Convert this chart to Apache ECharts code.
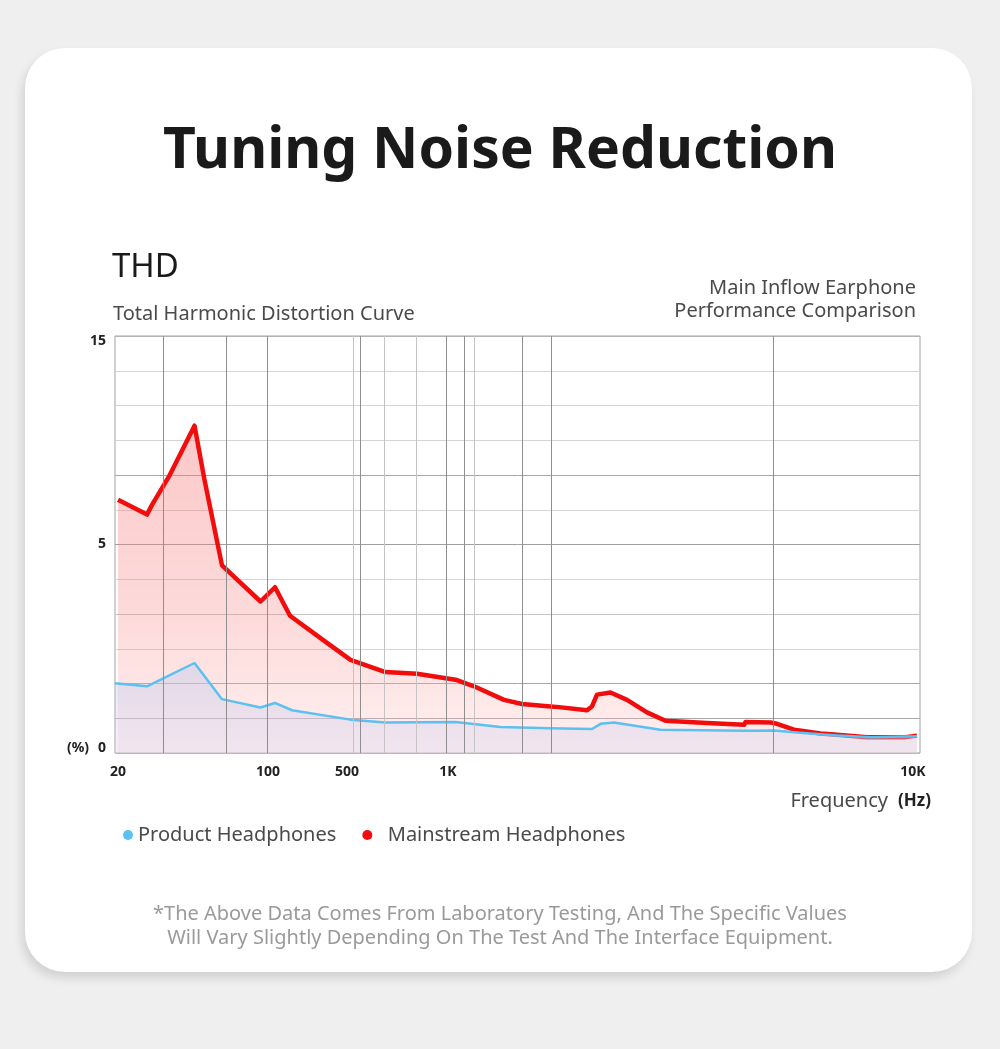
<!DOCTYPE html>
<html>
<head>
<meta charset="utf-8">
<script src="https://cdn.jsdelivr.net/npm/echarts@6/dist/echarts.min.js"></script>
<style>
    html, body { margin: 0; padding: 0; background: #efefef; }
    #card {
        position: absolute; left: 25px; top: 48px; width: 947px; height: 924px;
        background: #fff; border-radius: 40px;
        box-shadow: -3px 6px 10px rgba(0, 0, 0, 0.12);
    }
    #chart { position: absolute; left: 0; top: 0; width: 1000px; height: 1049px; }
</style>
</head>
<body>
<div id="card"></div>
<div id="chart"></div>
<script>
// x: position along the printed frequency scale (0 = 20Hz edge, 805 = right edge)
// y: grid rows of the printed chart (0..12, row 6 is labelled 5%, row 12 is 15%)
const FREQ_LABELS = ['20', '100', '500', '1K', '10K'];
const FREQ_LABEL_POS = [3, 153, 232, 333, 798];
const THD_LABELS = ['0', '5', '15'];
const THD_LABEL_POS = [0, 6, 12];

// vertical grid lines of the printed chart, dark ones and light ones
const GRID_X_DARK = [47.8, 111.5, 152.5, 244.8, 331.2, 348.8, 406.8, 435.8, 657.8];
const GRID_X_LIGHT = [237.8, 269.5, 301.2, 358.8];

const productX = [0, 32, 79.5, 107, 145.5, 160, 177, 235.5, 270.5, 340.5, 385.5, 435.5, 477, 485.5, 499, 545.5, 630.5, 659, 685.5, 718.5, 755.5, 802];
const productY = [2.01, 1.92, 2.59, 1.55, 1.31, 1.44, 1.23, 0.96, 0.88, 0.89, 0.75, 0.71, 0.69, 0.84, 0.88, 0.67, 0.64, 0.65, 0.58, 0.51, 0.45, 0.48];

const mainstreamX = [3, 32, 37, 54, 79.5, 89.5, 107, 145.5, 160, 175, 212, 235.5, 270.5, 302, 340.5, 359, 389, 407, 435.5, 444, 472, 474, 477, 482, 495.5, 512, 532, 550.5, 592, 629, 630.5, 655.5, 662, 679, 705.5, 719, 752, 789, 802];
const mainstreamY = [7.29, 6.86, 7.14, 7.96, 9.42, 7.86, 5.40, 4.36, 4.77, 3.95, 3.17, 2.68, 2.33, 2.28, 2.11, 1.92, 1.53, 1.41, 1.34, 1.32, 1.23, 1.22, 1.34, 1.68, 1.74, 1.53, 1.17, 0.93, 0.86, 0.81, 0.89, 0.88, 0.84, 0.67, 0.56, 0.53, 0.45, 0.45, 0.50];

// darker rows at 1, 2, 6, 8
const ROW_COLORS = ['#b8b8b8', '#a8a8a8', '#a8a8a8', '#d4d4d4', '#c4c4c4', '#d4d4d4', '#a0a0a0', '#d4d4d4', '#a8a8a8', '#d4d4d4', '#d4d4d4', '#d4d4d4', '#b4b4b4'];

const FONT = '"Noto Sans", sans-serif';

let myChart = echarts.init(document.getElementById('chart'), null, { renderer: 'canvas' });

let zip = (xs, ys) => xs.map((x, i) => [x, ys[i]]);

let gridLines = []
GRID_X_DARK.forEach(x => gridLines.push({ xAxis: x, lineStyle: { color: '#8e8e8e', width: 1, type: 'solid' } }))
GRID_X_LIGHT.forEach(x => gridLines.push({ xAxis: x, lineStyle: { color: '#c4c4c4', width: 1, type: 'solid' } }))

let option = {
    animation: false,
    backgroundColor: 'transparent',
    textStyle: { fontFamily: FONT },
    grid: {
        left: 115, top: 336, width: 805, height: 417,
        show: true, borderColor: '#a0a0a0', borderWidth: 1
    },
    legend: {
        left: 118, top: 820,
        icon: 'circle', itemWidth: 10, itemHeight: 11, itemGap: 26,
        textStyle: { fontSize: 20, color: '#4a4a4a', fontFamily: FONT },
        // the second label sits a little further from its dot
        formatter: name => name === 'Mainstream Headphones' ? '  ' + name : name,
        data: ['Product Headphones', 'Mainstream Headphones']
    },
    xAxis: {
        type: 'value', min: 0, max: 805,
        axisLine: { show: false }, axisTick: { show: false },
        splitLine: { show: false },
        axisLabel: {
            customValues: FREQ_LABEL_POS,
            margin: 12,
            fontSize: 14, fontWeight: 'bold', color: '#222',
            formatter: v => FREQ_LABELS[FREQ_LABEL_POS.indexOf(v)] || ''
        }
    },
    yAxis: {
        type: 'value', min: 0, max: 12, interval: 1,
        axisLine: { show: false }, axisTick: { show: false },
        splitLine: { show: true, lineStyle: { color: ROW_COLORS, width: 1 } },
        axisLabel: {
            customValues: THD_LABEL_POS,
            margin: 9,
            fontSize: 14, fontWeight: 'bold', color: '#222',
            formatter: v => {
                let t = THD_LABELS[THD_LABEL_POS.indexOf(v)] || ''
                if (v === 0) return '{lo|' + t + '}'
                if (v === 12) return '{hi|' + t + '}'
                return t
            },
            rich: {
                lo: { fontSize: 14, fontWeight: 'bold', color: '#222', padding: [0, 0, 10, 0] },
                hi: { fontSize: 14, fontWeight: 'bold', color: '#222', padding: [10, 0, 0, 0] }
            }
        }
    },
    series: [
        {
            // grid columns
            type: 'line', data: [], z: 1, silent: true,
            markLine: { silent: true, symbol: 'none', label: { show: false }, data: gridLines }
        },
        {
            name: 'Mainstream Headphones',
            type: 'line', z: 3,
            data: zip(mainstreamX, mainstreamY),
            showSymbol: false,
            color: '#f20c0c',
            lineStyle: { color: '#f20c0c', width: 4.5, join: 'round' },
            areaStyle: {
                color: new echarts.graphic.LinearGradient(0, 0, 0, 1, [
                    { offset: 0, color: 'rgba(246, 110, 110, 0.55)' },
                    { offset: 0.6, color: 'rgba(248, 140, 140, 0.45)' },
                    { offset: 1, color: 'rgba(255, 200, 200, 0.4)' }
                ])
            }
        },
        {
            name: 'Product Headphones',
            type: 'line', z: 4,
            data: zip(productX, productY),
            showSymbol: false,
            color: '#5bc0f2',
            lineStyle: { color: '#5bc0f2', width: 2.5, join: 'round' },
            areaStyle: {
                color: new echarts.graphic.LinearGradient(0, 0, 0, 1, [
                    { offset: 0, color: 'rgba(190, 205, 238, 0.65)' },
                    { offset: 1, color: 'rgba(215, 210, 238, 0.5)' }
                ])
            }
        }
    ],
    graphic: [
        { type: 'text', style: { text: 'Tuning Noise Reduction', x: 500, y: 152, textAlign: 'center', textVerticalAlign: 'middle', font: 'bold 57px ' + FONT, fill: '#1a1a1a' } },
        { type: 'text', style: { text: 'THD', x: 112, y: 268, textAlign: 'left', textVerticalAlign: 'middle', font: '33px ' + FONT, fill: '#1a1a1a' } },
        { type: 'text', style: { text: 'Total Harmonic Distortion Curve', x: 113, y: 314, textAlign: 'left', textVerticalAlign: 'middle', font: '20px ' + FONT, fill: '#4a4a4a' } },
        { type: 'text', style: { text: 'Main Inflow Earphone', x: 916, y: 288, textAlign: 'right', textVerticalAlign: 'middle', font: '20px ' + FONT, fill: '#4a4a4a' } },
        { type: 'text', style: { text: 'Performance Comparison', x: 916, y: 311, textAlign: 'right', textVerticalAlign: 'middle', font: '20px ' + FONT, fill: '#4a4a4a' } },
        { type: 'text', style: { text: '(%)', x: 89, y: 748, textAlign: 'right', textVerticalAlign: 'middle', font: 'bold 14px ' + FONT, fill: '#222' } },
        { type: 'text', style: { text: 'Frequency', x: 888, y: 801, textAlign: 'right', textVerticalAlign: 'middle', font: '20px ' + FONT, fill: '#4a4a4a' } },
        { type: 'text', style: { text: '(Hz)', x: 931, y: 801, textAlign: 'right', textVerticalAlign: 'middle', font: 'bold 17px ' + FONT, fill: '#222' } },
        { type: 'text', style: { text: '*The Above Data Comes From Laboratory Testing, And The Specific Values', x: 500, y: 914, textAlign: 'center', textVerticalAlign: 'middle', font: '20px ' + FONT, fill: '#9a9a9a' } },
        { type: 'text', style: { text: 'Will Vary Slightly Depending On The Test And The Interface Equipment.', x: 500, y: 938, textAlign: 'center', textVerticalAlign: 'middle', font: '20px ' + FONT, fill: '#9a9a9a' } }
    ]
};

myChart.setOption(option);
</script>
</body>
</html>
